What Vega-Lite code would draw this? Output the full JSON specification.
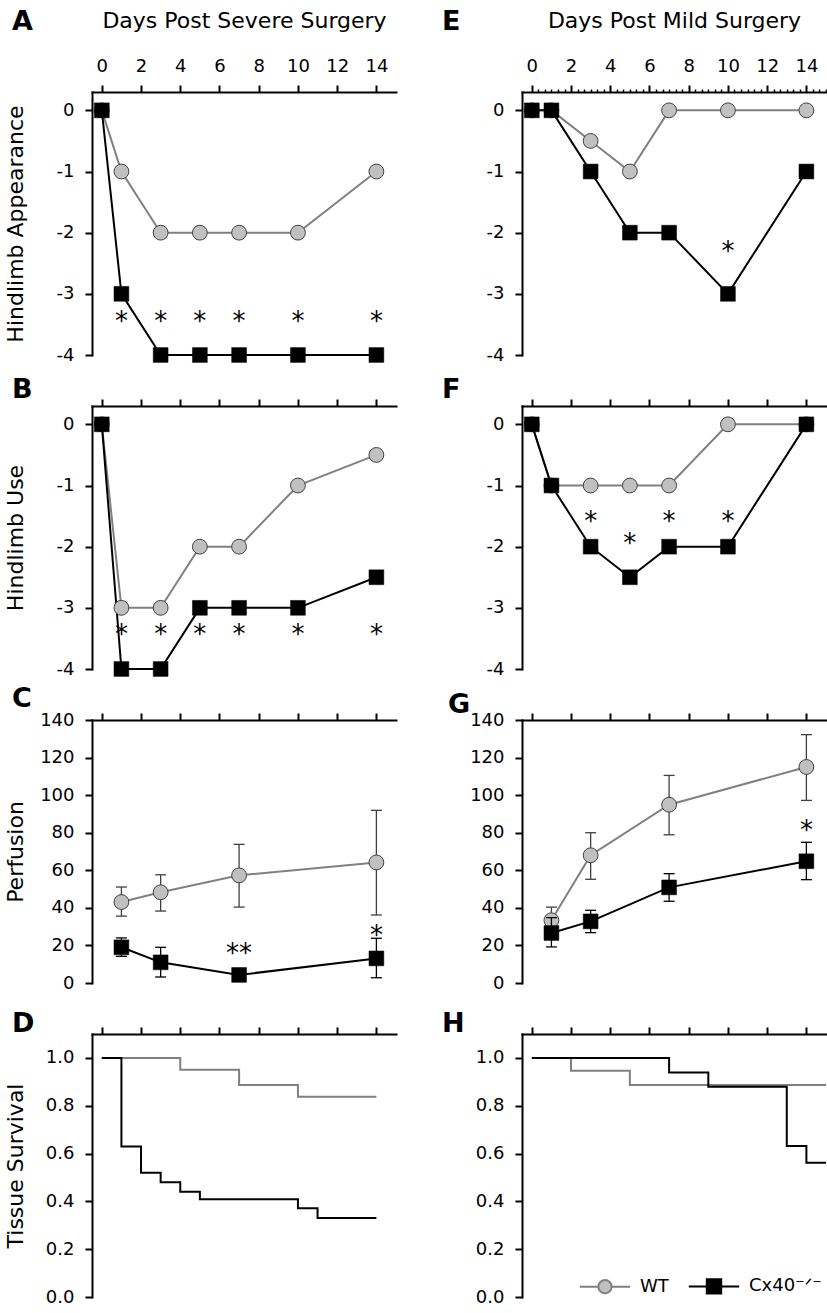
{
"$schema": "https://vega.github.io/schema/vega-lite/v6.json",
"background": "white",
"padding": {"left": 3, "top": 8, "right": 0, "bottom": 0},
"autosize": {"type": "pad"},
"bounds": "flush",
"columns": 2,
"spacing": {"row": 51, "column": 126},
"config": {
  "view": {"stroke": null},
  "font": "DejaVu Sans",
  "axis": {"domainColor": "#000000", "domainWidth": 2, "domainCap": "square", "tickColor": "#000000", "tickWidth": 2, "tickSize": 7, "labelFont": "DejaVu Sans", "labelFontSize": 18, "labelColor": "#000000", "labelPadding": 11, "labelOverlap": false, "labelFlush": false, "labelBound": false, "titleFont": "DejaVu Sans", "titleFontSize": 22, "titleFontWeight": "normal", "titleColor": "#000000", "grid": false},
  "title": {"font": "DejaVu Sans", "fontSize": 27, "fontWeight": "bold", "color": "#000000", "anchor": "start", "frame": "group", "offset": 0, "baseline": "alphabetic"}
},
"resolve": {"scale": {"shape": "independent", "fill": "independent", "stroke": "independent"}},
"datasets": {
  "A": [
    {"day": 0, "value": 0, "group": "WT"}, {"day": 1, "value": -1, "group": "WT"}, {"day": 3, "value": -2, "group": "WT"}, {"day": 5, "value": -2, "group": "WT"}, {"day": 7, "value": -2, "group": "WT"}, {"day": 10, "value": -2, "group": "WT"}, {"day": 14, "value": -1, "group": "WT"},
    {"day": 0, "value": 0, "group": "Cx40"}, {"day": 1, "value": -3, "group": "Cx40"}, {"day": 3, "value": -4, "group": "Cx40"}, {"day": 5, "value": -4, "group": "Cx40"}, {"day": 7, "value": -4, "group": "Cx40"}, {"day": 10, "value": -4, "group": "Cx40"}, {"day": 14, "value": -4, "group": "Cx40"}
  ],
  "A_sig": [
    {"day": 1, "value": -3.36, "label": "*"}, {"day": 3, "value": -3.36, "label": "*"}, {"day": 5, "value": -3.36, "label": "*"}, {"day": 7, "value": -3.36, "label": "*"}, {"day": 10, "value": -3.36, "label": "*"}, {"day": 14, "value": -3.36, "label": "*"}
  ],
  "B": [
    {"day": 0, "value": 0, "group": "WT"}, {"day": 1, "value": -3, "group": "WT"}, {"day": 3, "value": -3, "group": "WT"}, {"day": 5, "value": -2, "group": "WT"}, {"day": 7, "value": -2, "group": "WT"}, {"day": 10, "value": -1, "group": "WT"}, {"day": 14, "value": -0.5, "group": "WT"},
    {"day": 0, "value": 0, "group": "Cx40"}, {"day": 1, "value": -4, "group": "Cx40"}, {"day": 3, "value": -4, "group": "Cx40"}, {"day": 5, "value": -3, "group": "Cx40"}, {"day": 7, "value": -3, "group": "Cx40"}, {"day": 10, "value": -3, "group": "Cx40"}, {"day": 14, "value": -2.5, "group": "Cx40"}
  ],
  "B_sig": [
    {"day": 1, "value": -3.35, "label": "*"}, {"day": 3, "value": -3.35, "label": "*"}, {"day": 5, "value": -3.35, "label": "*"}, {"day": 7, "value": -3.35, "label": "*"}, {"day": 10, "value": -3.35, "label": "*"}, {"day": 14, "value": -3.35, "label": "*"}
  ],
  "C": [
    {"day": 1, "value": 43.1, "lo": 35.6, "hi": 51.1, "group": "WT"}, {"day": 3, "value": 48.3, "lo": 38.3, "hi": 57.6, "group": "WT"}, {"day": 7, "value": 57.3, "lo": 40.4, "hi": 73.8, "group": "WT"}, {"day": 14, "value": 64.2, "lo": 36.2, "hi": 91.9, "group": "WT"},
    {"day": 1, "value": 19.0, "lo": 14.2, "hi": 24.0, "group": "Cx40"}, {"day": 3, "value": 11.0, "lo": 3.2, "hi": 19.0, "group": "Cx40"}, {"day": 7, "value": 4.3, "lo": 1.5, "hi": 7.0, "group": "Cx40"}, {"day": 14, "value": 13.1, "lo": 2.8, "hi": 23.8, "group": "Cx40"}
  ],
  "C_sig": [
    {"day": 7, "value": 18.6, "label": "**"}, {"day": 14, "value": 28.4, "label": "*"}
  ],
  "D": [
    {"day": 0, "value": 1.0, "group": "WT"}, {"day": 4, "value": 0.95, "group": "WT"}, {"day": 7, "value": 0.887, "group": "WT"}, {"day": 10, "value": 0.838, "group": "WT"}, {"day": 14, "value": 0.838, "group": "WT"},
    {"day": 0, "value": 1.0, "group": "Cx40"}, {"day": 1, "value": 0.629, "group": "Cx40"}, {"day": 2, "value": 0.52, "group": "Cx40"}, {"day": 3, "value": 0.48, "group": "Cx40"}, {"day": 4, "value": 0.44, "group": "Cx40"}, {"day": 5, "value": 0.409, "group": "Cx40"}, {"day": 10, "value": 0.371, "group": "Cx40"}, {"day": 11, "value": 0.33, "group": "Cx40"}, {"day": 14, "value": 0.33, "group": "Cx40"}
  ],
  "E": [
    {"day": 0, "value": 0, "group": "WT"}, {"day": 1, "value": 0, "group": "WT"}, {"day": 3, "value": -0.5, "group": "WT"}, {"day": 5, "value": -1, "group": "WT"}, {"day": 7, "value": 0, "group": "WT"}, {"day": 10, "value": 0, "group": "WT"}, {"day": 14, "value": 0, "group": "WT"},
    {"day": 0, "value": 0, "group": "Cx40"}, {"day": 1, "value": 0, "group": "Cx40"}, {"day": 3, "value": -1, "group": "Cx40"}, {"day": 5, "value": -2, "group": "Cx40"}, {"day": 7, "value": -2, "group": "Cx40"}, {"day": 10, "value": -3, "group": "Cx40"}, {"day": 14, "value": -1, "group": "Cx40"}
  ],
  "E_sig": [
    {"day": 10, "value": -2.22, "label": "*"}
  ],
  "F": [
    {"day": 0, "value": 0, "group": "WT"}, {"day": 1, "value": -1, "group": "WT"}, {"day": 3, "value": -1, "group": "WT"}, {"day": 5, "value": -1, "group": "WT"}, {"day": 7, "value": -1, "group": "WT"}, {"day": 10, "value": 0, "group": "WT"}, {"day": 14, "value": 0, "group": "WT"},
    {"day": 0, "value": 0, "group": "Cx40"}, {"day": 1, "value": -1, "group": "Cx40"}, {"day": 3, "value": -2, "group": "Cx40"}, {"day": 5, "value": -2.5, "group": "Cx40"}, {"day": 7, "value": -2, "group": "Cx40"}, {"day": 10, "value": -2, "group": "Cx40"}, {"day": 14, "value": 0, "group": "Cx40"}
  ],
  "F_sig": [
    {"day": 3, "value": -1.5, "label": "*"}, {"day": 5, "value": -1.86, "label": "*"}, {"day": 7, "value": -1.5, "label": "*"}, {"day": 10, "value": -1.5, "label": "*"}
  ],
  "G": [
    {"day": 1, "value": 33.4, "lo": 26.4, "hi": 40.4, "group": "WT"}, {"day": 3, "value": 68.0, "lo": 55.2, "hi": 80.0, "group": "WT"}, {"day": 7, "value": 94.9, "lo": 78.9, "hi": 110.5, "group": "WT"}, {"day": 14, "value": 115.0, "lo": 97.2, "hi": 132.2, "group": "WT"},
    {"day": 1, "value": 26.6, "lo": 19.2, "hi": 34.8, "group": "Cx40"}, {"day": 3, "value": 32.8, "lo": 26.8, "hi": 38.7, "group": "Cx40"}, {"day": 7, "value": 50.9, "lo": 43.5, "hi": 58.2, "group": "Cx40"}, {"day": 14, "value": 64.8, "lo": 55.0, "hi": 74.9, "group": "Cx40"}
  ],
  "G_sig": [
    {"day": 14, "value": 83.9, "label": "*"}
  ],
  "H": [
    {"day": 0, "value": 1.0, "group": "WT"}, {"day": 2, "value": 0.946, "group": "WT"}, {"day": 5, "value": 0.887, "group": "WT"}, {"day": 15, "value": 0.887, "group": "WT"},
    {"day": 0, "value": 1.0, "group": "Cx40"}, {"day": 7, "value": 0.939, "group": "Cx40"}, {"day": 9, "value": 0.879, "group": "Cx40"}, {"day": 13, "value": 0.632, "group": "Cx40"}, {"day": 14, "value": 0.561, "group": "Cx40"}, {"day": 15, "value": 0.561, "group": "Cx40"}
  ]
},
"concat": [
  {
    "width": 304, "height": 263,
    "title": {"text": "A", "dx": -80, "dy": 31},
    "data": {"name": "A"},
    "encoding": {
      "x": {"field": "day", "type": "quantitative", "scale": {"domain": [-0.5, 15], "nice": false, "zero": false}, "axis": {"orient": "top", "values": [0, 2, 4, 6, 8, 10, 12, 14], "labelPadding": 10, "title": "Days Post Severe Surgery", "titleY": -65, "titleBaseline": "alphabetic"}},
      "y": {"field": "value", "type": "quantitative", "scale": {"domain": [-4, 0.3], "nice": false, "zero": false}, "axis": {"values": [0, -1, -2, -3, -4], "labelExpr": "'' + datum.value", "title": "Hindlimb Appearance", "titleX": -70, "titleY": 131.5, "titleAngle": 270, "titleBaseline": "alphabetic", "titleAlign": "center"}}
    },
    "layer": [
      {"transform": [{"filter": "datum.group == 'WT'"}], "mark": {"type": "line", "color": "#808080", "strokeWidth": 2}},
      {"transform": [{"filter": "datum.group == 'Cx40'"}], "mark": {"type": "line", "color": "#000000", "strokeWidth": 2}},
      {"transform": [{"filter": "datum.group == 'WT'"}], "mark": {"type": "point", "shape": "circle", "filled": true, "fill": "#c0c0c0", "stroke": "#404040", "strokeWidth": 1, "size": 220, "opacity": 1}},
      {"transform": [{"filter": "datum.group == 'Cx40'"}], "mark": {"type": "point", "shape": "square", "filled": true, "fill": "#000000", "stroke": "#000000", "strokeWidth": 0.5, "size": 220, "opacity": 1}},
      {"data": {"name": "A_sig"}, "mark": {"type": "text", "font": "DejaVu Sans", "fontSize": 26, "color": "#000000", "baseline": "middle", "align": "center", "dy": 6}, "encoding": {"text": {"field": "label", "type": "nominal"}}}
    ]
  },
  {
    "width": 304, "height": 263,
    "title": {"text": "E", "dx": -80, "dy": 31},
    "layer": [
      {
        "data": {"name": "E"},
        "encoding": {
          "x": {"field": "day", "type": "quantitative", "scale": {"domain": [-0.5, 15], "nice": false, "zero": false}, "axis": {"orient": "top", "values": [0, 2, 4, 6, 8, 10, 12, 14], "labelPadding": 10, "title": "Days Post Mild Surgery", "titleY": -65, "titleBaseline": "alphabetic"}},
          "y": {"field": "value", "type": "quantitative", "scale": {"domain": [-4, 0.3], "nice": false, "zero": false}, "axis": {"values": [0, -1, -2, -3, -4], "labelExpr": "'' + datum.value", "title": null}}
        },
        "layer": [
          {"transform": [{"filter": "datum.group == 'WT'"}], "mark": {"type": "line", "color": "#808080", "strokeWidth": 2}},
          {"transform": [{"filter": "datum.group == 'Cx40'"}], "mark": {"type": "line", "color": "#000000", "strokeWidth": 2}},
          {"transform": [{"filter": "datum.group == 'WT'"}], "mark": {"type": "point", "shape": "circle", "filled": true, "fill": "#c0c0c0", "stroke": "#404040", "strokeWidth": 1, "size": 220, "opacity": 1}},
          {"transform": [{"filter": "datum.group == 'Cx40'"}], "mark": {"type": "point", "shape": "square", "filled": true, "fill": "#000000", "stroke": "#000000", "strokeWidth": 0.5, "size": 220, "opacity": 1}},
          {"data": {"name": "E_sig"}, "mark": {"type": "text", "font": "DejaVu Sans", "fontSize": 26, "color": "#000000", "baseline": "middle", "align": "center", "dy": 6}, "encoding": {"text": {"field": "label", "type": "nominal"}}}
        ]
      },
      {
        "data": {"name": "E"},
        "transform": [{"filter": "false"}],
        "mark": {"type": "rule"},
        "encoding": {
          "x": {"field": "day", "type": "quantitative", "scale": {"domain": [-0.5, 15], "nice": false, "zero": false}, "axis": {"orient": "top", "values": [0.333, 0.667, 1, 1.333, 1.667, 2.333, 2.667, 3, 3.333, 3.667, 4.333, 4.667, 5, 5.333, 5.667, 6.333, 6.667, 7, 7.333, 7.667, 8.333, 8.667, 9, 9.333, 9.667, 10.333, 10.667, 11, 11.333, 11.667, 12.333, 12.667, 13, 13.333, 13.667, 14.333, 14.667, 15], "labels": false, "domain": false, "tickSize": 3, "tickWidth": 1.5, "title": null}}
        }
      }
    ],
    "resolve": {"axis": {"x": "independent"}}
  },
  {
    "width": 304, "height": 263,
    "title": {"text": "B", "dy": 10, "dx": -80},
    "data": {"name": "B"},
    "encoding": {
      "x": {"field": "day", "type": "quantitative", "scale": {"domain": [-0.5, 15], "nice": false, "zero": false}, "axis": {"orient": "top", "values": [0, 2, 4, 6, 8, 10, 12, 14], "labels": false, "title": null}},
      "y": {"field": "value", "type": "quantitative", "scale": {"domain": [-4, 0.3], "nice": false, "zero": false}, "axis": {"values": [0, -1, -2, -3, -4], "labelExpr": "'' + datum.value", "title": "Hindlimb Use", "titleX": -70, "titleY": 131.5, "titleAngle": 270, "titleBaseline": "alphabetic", "titleAlign": "center"}}
    },
    "layer": [
      {"transform": [{"filter": "datum.group == 'WT'"}], "mark": {"type": "line", "color": "#808080", "strokeWidth": 2}},
      {"transform": [{"filter": "datum.group == 'Cx40'"}], "mark": {"type": "line", "color": "#000000", "strokeWidth": 2}},
      {"transform": [{"filter": "datum.group == 'WT'"}], "mark": {"type": "point", "shape": "circle", "filled": true, "fill": "#c0c0c0", "stroke": "#404040", "strokeWidth": 1, "size": 220, "opacity": 1}},
      {"transform": [{"filter": "datum.group == 'Cx40'"}], "mark": {"type": "point", "shape": "square", "filled": true, "fill": "#000000", "stroke": "#000000", "strokeWidth": 0.5, "size": 220, "opacity": 1}},
      {"data": {"name": "B_sig"}, "mark": {"type": "text", "font": "DejaVu Sans", "fontSize": 26, "color": "#000000", "baseline": "middle", "align": "center", "dy": 6}, "encoding": {"text": {"field": "label", "type": "nominal"}}}
    ]
  },
  {
    "width": 304, "height": 263,
    "title": {"text": "F", "dy": 10, "dx": -80},
    "data": {"name": "F"},
    "encoding": {
      "x": {"field": "day", "type": "quantitative", "scale": {"domain": [-0.5, 15], "nice": false, "zero": false}, "axis": {"orient": "top", "values": [0, 2, 4, 6, 8, 10, 12, 14], "labels": false, "title": null}},
      "y": {"field": "value", "type": "quantitative", "scale": {"domain": [-4, 0.3], "nice": false, "zero": false}, "axis": {"values": [0, -1, -2, -3, -4], "labelExpr": "'' + datum.value", "title": null}}
    },
    "layer": [
      {"transform": [{"filter": "datum.group == 'WT'"}], "mark": {"type": "line", "color": "#808080", "strokeWidth": 2}},
      {"transform": [{"filter": "datum.group == 'Cx40'"}], "mark": {"type": "line", "color": "#000000", "strokeWidth": 2}},
      {"transform": [{"filter": "datum.group == 'WT'"}], "mark": {"type": "point", "shape": "circle", "filled": true, "fill": "#c0c0c0", "stroke": "#404040", "strokeWidth": 1, "size": 220, "opacity": 1}},
      {"transform": [{"filter": "datum.group == 'Cx40'"}], "mark": {"type": "point", "shape": "square", "filled": true, "fill": "#000000", "stroke": "#000000", "strokeWidth": 0.5, "size": 220, "opacity": 1}},
      {"data": {"name": "F_sig"}, "mark": {"type": "text", "font": "DejaVu Sans", "fontSize": 26, "color": "#000000", "baseline": "middle", "align": "center", "dy": 6}, "encoding": {"text": {"field": "label", "type": "nominal"}}}
    ]
  },
  {
    "width": 304, "height": 263,
    "title": {"text": "C", "dy": 6, "dx": -80},
    "data": {"name": "C"},
    "encoding": {
      "x": {"field": "day", "type": "quantitative", "scale": {"domain": [-0.5, 15], "nice": false, "zero": false}, "axis": {"orient": "top", "values": [0, 2, 4, 6, 8, 10, 12, 14], "labels": false, "title": null}},
      "y": {"field": "value", "type": "quantitative", "scale": {"domain": [0, 140], "nice": false, "zero": false}, "axis": {"values": [0, 20, 40, 60, 80, 100, 120, 140], "title": "Perfusion", "titleX": -70, "titleY": 131.5, "titleAngle": 270, "titleBaseline": "alphabetic", "titleAlign": "center"}}
    },
    "layer": [
      {"transform": [{"filter": "datum.group == 'WT'"}], "mark": {"type": "rule", "color": "#404040", "strokeWidth": 1.3}, "encoding": {"y": {"field": "lo", "type": "quantitative", "title": "Perfusion"}, "y2": {"field": "hi"}}},
      {"transform": [{"filter": "datum.group == 'WT'"}], "mark": {"type": "tick", "orient": "horizontal", "size": 11, "thickness": 1.3, "color": "#404040", "opacity": 1}, "encoding": {"y": {"field": "lo", "type": "quantitative", "title": "Perfusion"}}},
      {"transform": [{"filter": "datum.group == 'WT'"}], "mark": {"type": "tick", "orient": "horizontal", "size": 11, "thickness": 1.3, "color": "#404040", "opacity": 1}, "encoding": {"y": {"field": "hi", "type": "quantitative", "title": "Perfusion"}}},
      {"transform": [{"filter": "datum.group == 'WT'"}], "mark": {"type": "line", "color": "#808080", "strokeWidth": 2}},
      {"transform": [{"filter": "datum.group == 'WT'"}], "mark": {"type": "point", "shape": "circle", "filled": true, "fill": "#c0c0c0", "stroke": "#404040", "strokeWidth": 1, "size": 220, "opacity": 1}},
      {"transform": [{"filter": "datum.group == 'Cx40'"}], "mark": {"type": "rule", "color": "#000000", "strokeWidth": 1.3}, "encoding": {"y": {"field": "lo", "type": "quantitative", "title": "Perfusion"}, "y2": {"field": "hi"}}},
      {"transform": [{"filter": "datum.group == 'Cx40'"}], "mark": {"type": "tick", "orient": "horizontal", "size": 11, "thickness": 1.3, "color": "#000000", "opacity": 1}, "encoding": {"y": {"field": "lo", "type": "quantitative", "title": "Perfusion"}}},
      {"transform": [{"filter": "datum.group == 'Cx40'"}], "mark": {"type": "tick", "orient": "horizontal", "size": 11, "thickness": 1.3, "color": "#000000", "opacity": 1}, "encoding": {"y": {"field": "hi", "type": "quantitative", "title": "Perfusion"}}},
      {"transform": [{"filter": "datum.group == 'Cx40'"}], "mark": {"type": "line", "color": "#000000", "strokeWidth": 2}},
      {"transform": [{"filter": "datum.group == 'Cx40'"}], "mark": {"type": "point", "shape": "square", "filled": true, "fill": "#000000", "stroke": "#000000", "strokeWidth": 0.5, "size": 220, "opacity": 1}},
      {"data": {"name": "C_sig"}, "mark": {"type": "text", "font": "DejaVu Sans", "fontSize": 26, "color": "#000000", "baseline": "middle", "align": "center", "dy": 6}, "encoding": {"text": {"field": "label", "type": "nominal"}}}
    ]
  },
  {
    "width": 304, "height": 263,
    "title": {"text": "G", "dy": 12, "dx": -74},
    "data": {"name": "G"},
    "encoding": {
      "x": {"field": "day", "type": "quantitative", "scale": {"domain": [-0.5, 15], "nice": false, "zero": false}, "axis": {"orient": "top", "values": [0, 2, 4, 6, 8, 10, 12, 14], "labels": false, "title": null}},
      "y": {"field": "value", "type": "quantitative", "scale": {"domain": [0, 140], "nice": false, "zero": false}, "axis": {"values": [0, 20, 40, 60, 80, 100, 120, 140], "title": null}}
    },
    "layer": [
      {"transform": [{"filter": "datum.group == 'WT'"}], "mark": {"type": "rule", "color": "#404040", "strokeWidth": 1.3}, "encoding": {"y": {"field": "lo", "type": "quantitative", "title": null}, "y2": {"field": "hi"}}},
      {"transform": [{"filter": "datum.group == 'WT'"}], "mark": {"type": "tick", "orient": "horizontal", "size": 11, "thickness": 1.3, "color": "#404040", "opacity": 1}, "encoding": {"y": {"field": "lo", "type": "quantitative", "title": null}}},
      {"transform": [{"filter": "datum.group == 'WT'"}], "mark": {"type": "tick", "orient": "horizontal", "size": 11, "thickness": 1.3, "color": "#404040", "opacity": 1}, "encoding": {"y": {"field": "hi", "type": "quantitative", "title": null}}},
      {"transform": [{"filter": "datum.group == 'WT'"}], "mark": {"type": "line", "color": "#808080", "strokeWidth": 2}},
      {"transform": [{"filter": "datum.group == 'WT'"}], "mark": {"type": "point", "shape": "circle", "filled": true, "fill": "#c0c0c0", "stroke": "#404040", "strokeWidth": 1, "size": 220, "opacity": 1}},
      {"transform": [{"filter": "datum.group == 'Cx40'"}], "mark": {"type": "rule", "color": "#000000", "strokeWidth": 1.3}, "encoding": {"y": {"field": "lo", "type": "quantitative", "title": null}, "y2": {"field": "hi"}}},
      {"transform": [{"filter": "datum.group == 'Cx40'"}], "mark": {"type": "tick", "orient": "horizontal", "size": 11, "thickness": 1.3, "color": "#000000", "opacity": 1}, "encoding": {"y": {"field": "lo", "type": "quantitative", "title": null}}},
      {"transform": [{"filter": "datum.group == 'Cx40'"}], "mark": {"type": "tick", "orient": "horizontal", "size": 11, "thickness": 1.3, "color": "#000000", "opacity": 1}, "encoding": {"y": {"field": "hi", "type": "quantitative", "title": null}}},
      {"transform": [{"filter": "datum.group == 'Cx40'"}], "mark": {"type": "line", "color": "#000000", "strokeWidth": 2}},
      {"transform": [{"filter": "datum.group == 'Cx40'"}], "mark": {"type": "point", "shape": "square", "filled": true, "fill": "#000000", "stroke": "#000000", "strokeWidth": 0.5, "size": 220, "opacity": 1}},
      {"data": {"name": "G_sig"}, "mark": {"type": "text", "font": "DejaVu Sans", "fontSize": 26, "color": "#000000", "baseline": "middle", "align": "center", "dy": 6}, "encoding": {"text": {"field": "label", "type": "nominal"}}}
    ]
  },
  {
    "width": 304, "height": 263,
    "title": {"text": "D", "dy": 16, "dx": -80},
    "data": {"name": "D"},
    "encoding": {
      "x": {"field": "day", "type": "quantitative", "scale": {"domain": [-0.5, 15], "nice": false, "zero": false}, "axis": {"orient": "top", "values": [0, 2, 4, 6, 8, 10, 12, 14], "labels": false, "title": null}},
      "y": {"field": "value", "type": "quantitative", "scale": {"domain": [0, 1.1], "nice": false, "zero": false}, "axis": {"values": [0, 0.2, 0.4, 0.6, 0.8, 1.0], "format": ".1f", "title": "Tissue Survival", "titleX": -70, "titleY": 131.5, "titleAngle": 270, "titleBaseline": "alphabetic", "titleAlign": "center"}}
    },
    "layer": [
      {"transform": [{"filter": "datum.group == 'WT'"}], "mark": {"type": "line", "color": "#808080", "strokeWidth": 2, "interpolate": "step-after"}},
      {"transform": [{"filter": "datum.group == 'Cx40'"}], "mark": {"type": "line", "color": "#000000", "strokeWidth": 2, "interpolate": "step-after"}}
    ]
  },
  {
    "width": 304, "height": 263,
    "title": {"text": "H", "dy": 16, "dx": -80},
    "data": {"name": "H"},
    "encoding": {
      "x": {"field": "day", "type": "quantitative", "scale": {"domain": [-0.5, 15], "nice": false, "zero": false}, "axis": {"orient": "top", "values": [0, 2, 4, 6, 8, 10, 12, 14], "labels": false, "title": null}},
      "y": {"field": "value", "type": "quantitative", "scale": {"domain": [0, 1.1], "nice": false, "zero": false}, "axis": {"values": [0, 0.2, 0.4, 0.6, 0.8, 1.0], "format": ".1f", "title": null}}
    },
    "layer": [
      {"transform": [{"filter": "datum.group == 'WT'"}], "mark": {"type": "line", "color": "#808080", "strokeWidth": 2, "interpolate": "step-after"}},
      {"transform": [{"filter": "datum.group == 'Cx40'"}], "mark": {"type": "line", "color": "#000000", "strokeWidth": 2, "interpolate": "step-after"}},
      {
        "transform": [{"filter": "false"}],
        "mark": {"type": "point", "filled": true, "opacity": 1},
        "encoding": {
          "shape": {"field": "group", "type": "nominal", "scale": {"domain": ["WT", "Cx40"], "range": ["M-4.2,0L-1.1,0M1.1,0L4.2,0M-1.1,0A1.1,1.1,0,1,1,1.1,0A1.1,1.1,0,1,1,-1.1,0Z", "M-4.2,0L4.2,0M-1.2,-1.2L1.2,-1.2L1.2,1.2L-1.2,1.2Z"]}, "legend": {"orient": "none", "legendX": 74, "legendY": 243, "direction": "horizontal", "title": null, "symbolSize": 144, "symbolStrokeWidth": 2, "symbolOpacity": 1, "labelFont": "DejaVu Sans", "labelFontSize": 18, "labelColor": "#000000", "labelOffset": 26, "columnPadding": 15, "padding": 0, "labelExpr": "datum.label == 'Cx40' ? 'Cx40⁻ᐟ⁻' : datum.label"}},
          "fill": {"field": "group", "type": "nominal", "scale": {"domain": ["WT", "Cx40"], "range": ["#c0c0c0", "#000000"]}, "legend": {"orient": "none", "legendX": 74, "legendY": 243, "direction": "horizontal", "title": null, "symbolSize": 144, "symbolStrokeWidth": 2, "symbolOpacity": 1, "labelFont": "DejaVu Sans", "labelFontSize": 18, "labelColor": "#000000", "labelOffset": 26, "columnPadding": 15, "padding": 0, "labelExpr": "datum.label == 'Cx40' ? 'Cx40⁻ᐟ⁻' : datum.label"}},
          "stroke": {"field": "group", "type": "nominal", "scale": {"domain": ["WT", "Cx40"], "range": ["#808080", "#000000"]}, "legend": {"orient": "none", "legendX": 74, "legendY": 243, "direction": "horizontal", "title": null, "symbolSize": 144, "symbolStrokeWidth": 2, "symbolOpacity": 1, "labelFont": "DejaVu Sans", "labelFontSize": 18, "labelColor": "#000000", "labelOffset": 26, "columnPadding": 15, "padding": 0, "labelExpr": "datum.label == 'Cx40' ? 'Cx40⁻ᐟ⁻' : datum.label"}}
        }
      }
    ]
  }
]
}
